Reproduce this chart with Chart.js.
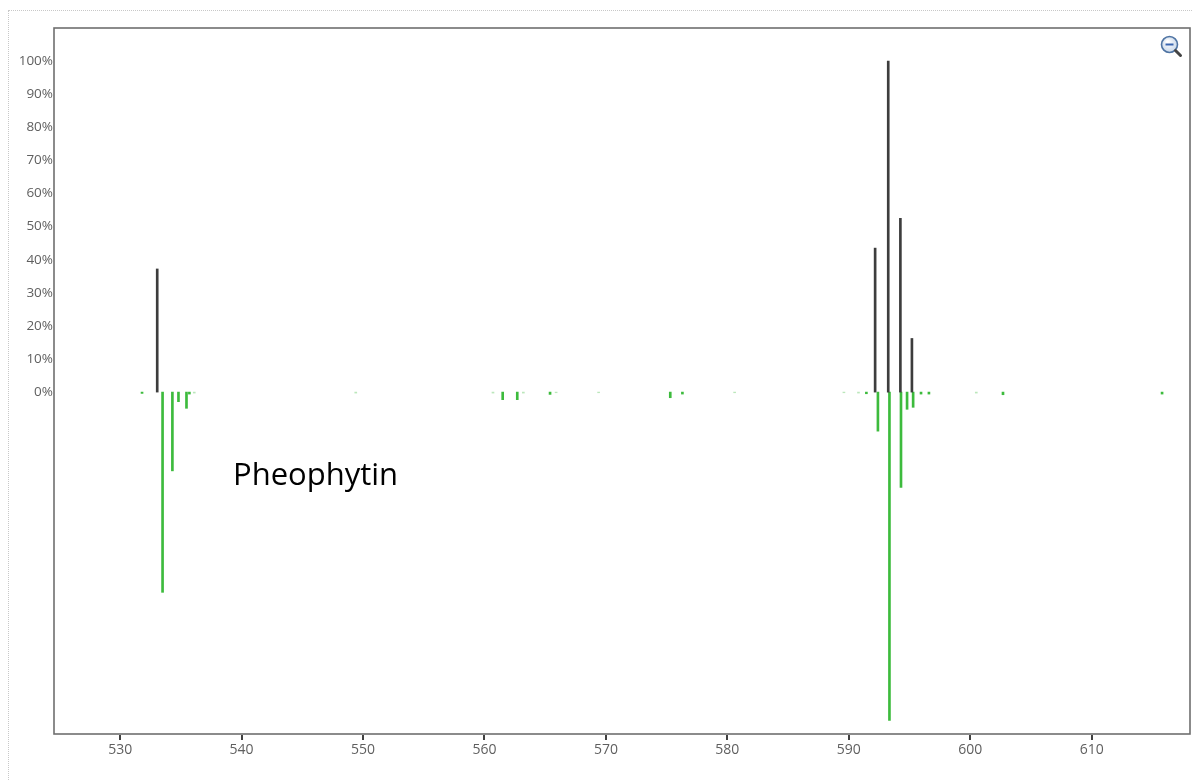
<!DOCTYPE html>
<html>
<head>
<meta charset="utf-8">
<script src="https://cdn.jsdelivr.net/npm/chart.js@4.4.1/dist/chart.umd.min.js"></script>
<style>
  html, body { margin: 0; padding: 0; background: #fff; overflow: hidden; }
  #wrap { position: relative; width: 1192px; height: 780px; }
  #frame { position: absolute; left: 8px; top: 10px; width: 1220px; height: 820px; border: 1px dotted #c8c8c8; box-sizing: border-box; }
  canvas { position: absolute; left: 0; top: 0; }
</style>
</head>
<body>
<div id="wrap">
  <div id="frame"></div>
  <canvas id="c" width="1192" height="780"></canvas>
</div>
<script>
// ---- data ----
const measuredMz = [533.05, 592.17, 593.25, 594.25, 595.2];
const measuredIntensity = [37.2, 43.5, 100, 52.5, 16.2];

const libraryMz = [531.8, 533.49, 534.3, 534.8, 535.46, 535.7, 536.1, 549.4, 560.7, 561.5, 562.7, 563.2,
  565.4, 565.9, 569.4, 575.3, 576.3, 580.6, 589.6, 590.8, 591.45, 592.4, 593.35, 594.3, 594.8, 595.3,
  595.95, 596.6, 600.5, 602.7, 615.8];
const libraryIntensity = [-0.4, -60.5, -23.8, -2.9, -4.9, -0.6, -0.3, -0.3, -0.3, -2.3, -2.3, -0.3,
  -0.7, -0.2, -0.2, -1.7, -0.6, -0.2, -0.2, -0.3, -0.5, -11.8, -99.2, -28.8, -5.2, -4.6,
  -0.6, -0.6, -0.3, -0.8, -0.6];

const xTickValues = [530, 540, 550, 560, 570, 580, 590, 600, 610];
const yTickValues = [0, 10, 20, 30, 40, 50, 60, 70, 80, 90, 100];
const compoundLabel = 'Pheophytin';

const X_MIN = 524.55, X_MAX = 618.1, Y_MIN = -103.3, Y_MAX = 110;

const toPoints = (xs, ys) => xs.map((x, i) => ({ x: x, y: ys[i] }));

const framePlugin = {
  id: 'frame',
  afterDraw(chart) {
    const { ctx, chartArea: a } = chart;
    const xs = chart.scales.x;
    ctx.save();
    ctx.strokeStyle = '#6f6f6f';
    ctx.lineWidth = 1.6;
    ctx.strokeRect(a.left, a.top, a.right - a.left, a.bottom - a.top);
    // x tick marks
    ctx.strokeStyle = '#404040';
    ctx.lineWidth = 2;
    ctx.beginPath();
    for (let i = 0; i < xTickValues.length; i++) {
      const px = Math.round(xs.getPixelForValue(xTickValues[i]));
      ctx.moveTo(px, a.bottom + 1);
      ctx.lineTo(px, a.bottom + 6);
    }
    ctx.stroke();
    // compound label
    ctx.fillStyle = '#000';
    ctx.font = '31px "Open Sans", sans-serif';
    ctx.textBaseline = 'alphabetic';
    ctx.textAlign = 'left';
    ctx.fillText(compoundLabel, 233, 485);
    // zoom-out icon
    const cx = 1169.5, cy = 44.5, r = 8;
    const g = ctx.createRadialGradient(cx - 2, cy - 3, 1, cx, cy, r);
    g.addColorStop(0, '#ffffff');
    g.addColorStop(1, '#c9d8ea');
    ctx.fillStyle = g;
    ctx.beginPath(); ctx.arc(cx, cy, r, 0, Math.PI * 2); ctx.fill();
    ctx.strokeStyle = '#4f74a3'; ctx.lineWidth = 1.6;
    ctx.beginPath(); ctx.arc(cx, cy, r, 0, Math.PI * 2); ctx.stroke();
    ctx.strokeStyle = '#3a66b0'; ctx.lineWidth = 2;
    ctx.beginPath(); ctx.moveTo(cx - 4, cy); ctx.lineTo(cx + 4, cy); ctx.stroke();
    ctx.strokeStyle = '#444'; ctx.lineWidth = 3; ctx.lineCap = 'round';
    ctx.beginPath(); ctx.moveTo(cx + 6, cy + 6); ctx.lineTo(cx + 11, cy + 11); ctx.stroke();
    ctx.restore();
  }
};

new Chart(document.getElementById('c'), {
  type: 'bar',
  data: {
    datasets: [
      {
        label: 'Measured',
        data: toPoints(measuredMz, measuredIntensity),
        backgroundColor: '#3d3d3d',
        barThickness: 2,
        grouped: false
      },
      {
        label: 'Library',
        data: toPoints(libraryMz, libraryIntensity),
        backgroundColor: (c) => {
          const v = c.raw ? Math.abs(c.raw.y) : 1;
          return v < 0.35 ? 'rgba(61,187,61,0.35)' : '#3dbb3d';
        },
        barThickness: 2,
        grouped: false
      }
    ]
  },
  plugins: [framePlugin],
  options: {
    responsive: false,
    animation: false,
    devicePixelRatio: 1,
    layout: { padding: { top: 28, right: 2, left: 0, bottom: 0 } },
    plugins: { legend: { display: false }, tooltip: { enabled: false } },
    scales: {
      x: {
        type: 'linear',
        min: X_MIN, max: X_MAX,
        offset: false,
        afterFit: (s) => { s.height = 46; },
        afterBuildTicks: (s) => { s.ticks = xTickValues.map(v => ({ value: v })); },
        grid: { display: false, drawTicks: false },
        border: { display: false },
        ticks: { color: '#5f5f5f', font: { family: '"Open Sans", sans-serif', size: 14 }, padding: 8, maxRotation: 0, autoSkip: false, callback: (v) => String(v) }
      },
      y: {
        min: Y_MIN, max: Y_MAX,
        afterFit: (s) => { s.width = 54; },
        afterBuildTicks: (s) => { s.ticks = yTickValues.map(v => ({ value: v })); },
        grid: { display: false, drawTicks: false },
        border: { display: false },
        ticks: { color: '#5f5f5f', font: { family: '"Open Sans", sans-serif', size: 13.5 }, padding: 1, autoSkip: false, callback: (v) => v + '%' }
      }
    }
  }
});
</script>
</body>
</html>
